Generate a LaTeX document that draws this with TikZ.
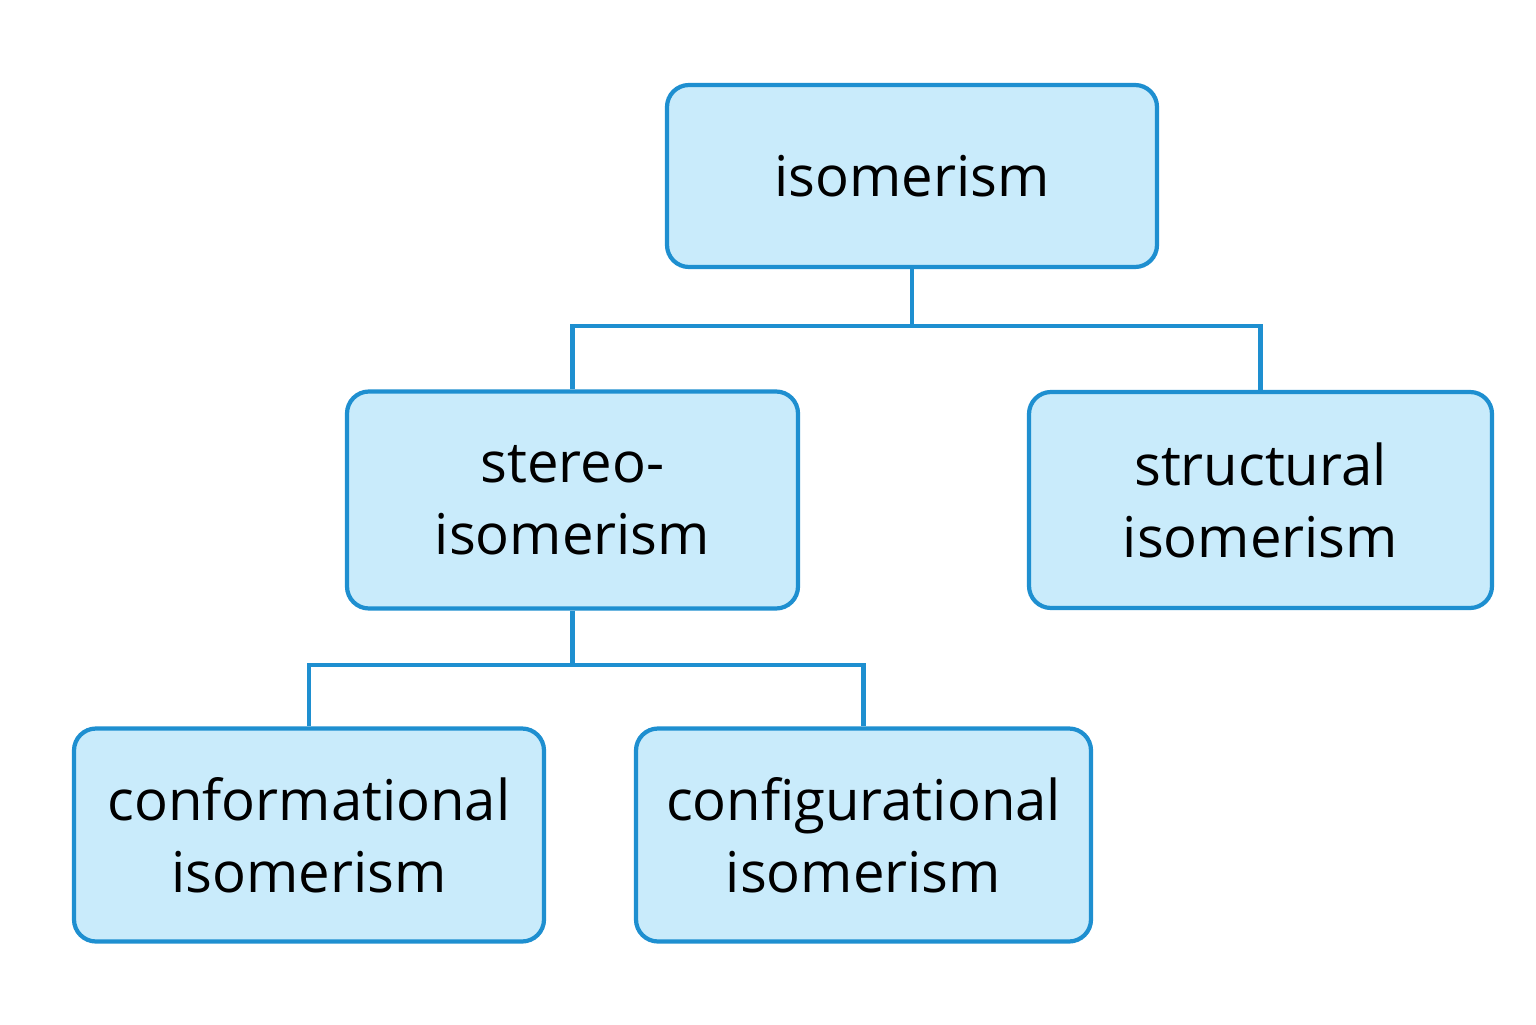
\documentclass[tikz,border=0pt]{standalone}
\usepackage{fontspec}
\setmainfont{Open Sans}
\usetikzlibrary{positioning}

\begin{document}
\begin{tikzpicture}[box/.style={draw=boxblue,fill=boxfill,line width=1.2pt,rounded corners=0.22cm,align=center,font=\fontsize{16}{20.5}\selectfont,inner sep=0pt},
	link/.style={draw=boxblue,line width=1.2pt}]
\definecolor{boxblue}{HTML}{1E8FD0}
\definecolor{boxfill}{HTML}{C9EBFB}
\useasboundingbox(0,0)rectangle(15.36,10.24);

\node[box,minimum width=4.9cm,minimum height=1.82cm](iso)at(9.12,8.48){isomerism};
\node[box,minimum width=4.51cm,minimum height=2.17cm](stereo)at(5.725,5.24){stereo-\\isomerism};
\node[box,minimum width=4.63cm,minimum height=2.16cm](struct)at(12.605,5.24){structural\\isomerism};
\node[box,minimum width=4.7cm,minimum height=2.13cm](conf)at(3.09,1.89){conformational\\isomerism};
\node[box,minimum width=4.55cm,minimum height=2.13cm](config)at(8.635,1.89){configurational\\isomerism};

\coordinate(j1)at(9.12,6.98);
\coordinate(j2)at(5.725,3.59);

\path[link](iso)--(j1)
	(j1)-|(stereo)
	(j1)-|(struct)
	(stereo)--(j2)
	(j2)-|(conf)
	(j2)-|(config);

\end{tikzpicture}
\end{document}
